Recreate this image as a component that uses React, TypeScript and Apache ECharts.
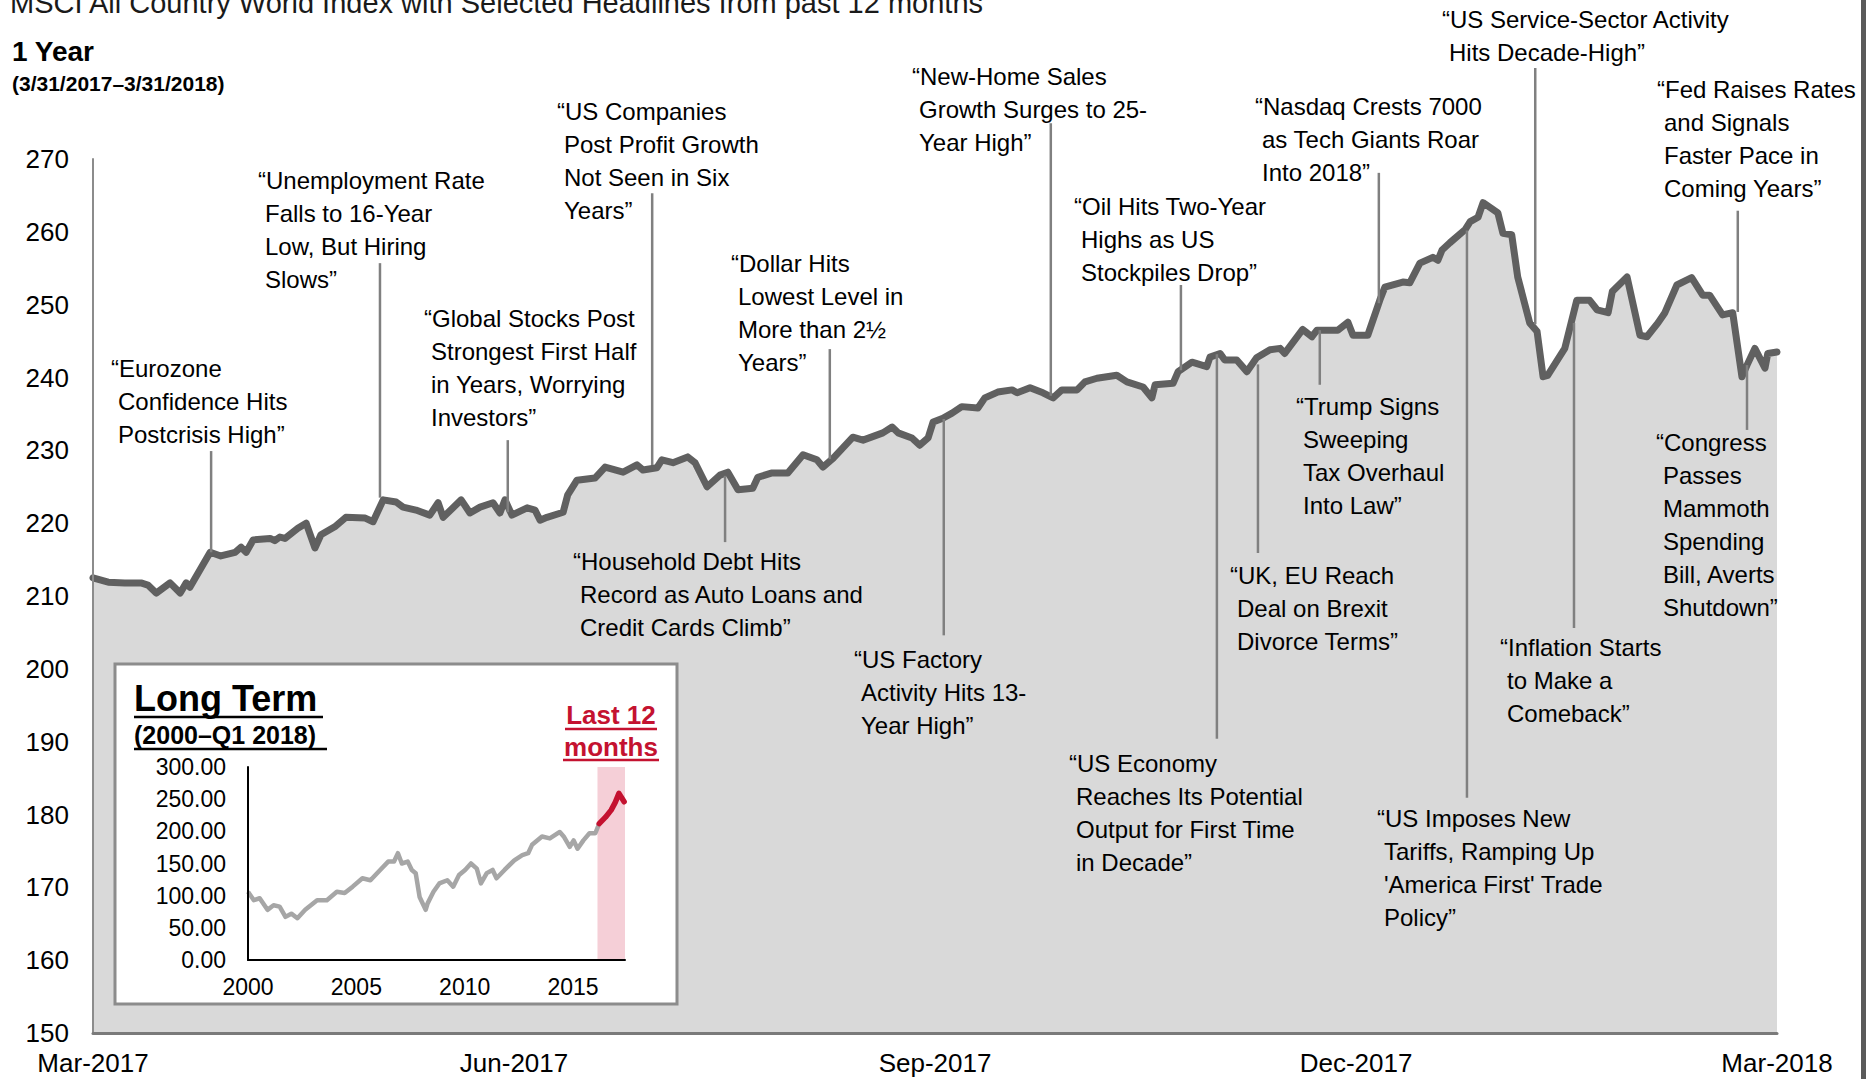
import React, { useEffect, useRef } from "react";
import * as echarts from "echarts";

// ---------- text ----------
const chartTitle = "MSCI All Country World Index with Selected Headlines from past 12 months";
const periodTitle = "1 Year";
const periodRange = "(3/31/2017–3/31/2018)";
const xTickLabels = ["Mar-2017", "Jun-2017", "Sep-2017", "Dec-2017", "Mar-2018"];

// ---------- 1-year series (days since 3/31/2017) ----------
const dayOffsets = [
  0, 3.3, 6.9, 10.4, 11.9, 13.7, 16.7, 18.9, 20.2, 21.0,
  25.4, 27.7, 30.8, 32.1, 33.2, 34.7, 38.4, 39.4, 40.5, 41.6,
  44.4, 46.2, 48.1, 49.4, 52.4, 54.8, 59.0, 60.7, 62.9, 65.7,
  67.2, 70.0, 73.0, 74.8, 75.9, 79.8, 81.7, 83.9, 86.7, 88.2,
  89.3, 90.8, 94.1, 95.8, 96.9, 98.4, 101.9, 102.9, 104.9, 108.8,
  111.0, 114.9, 117.9, 119.2, 122.2, 123.3, 125.7, 128.9, 130.5, 133.1,
  135.9, 137.6, 139.8, 143.0, 144.1, 147.2, 150.6, 153.9, 156.9, 158.2,
  160.4, 164.7, 166.9, 171.2, 173.2, 174.5, 177.5, 179.2, 181.0, 182.1,
  184.2, 186.2, 188.3, 191.8, 193.3, 196.1, 199.2, 200.3, 203.1, 205.9,
  208.1, 210.0, 213.3, 215.0, 217.6, 221.9, 224.1, 227.6, 229.5, 230.2,
  234.1, 235.2, 238.2, 241.4, 242.1, 244.3, 245.3, 247.9, 250.1, 252.2,
  255.1, 257.3, 258.3, 262.2, 264.2, 265.3, 269.8, 272.0, 273.1, 276.3,
  278.9, 280.0, 283.9, 285.4, 287.6, 290.4, 291.5, 292.4, 294.1, 297.4,
  298.5, 300.2, 301.3, 304.5, 305.6, 307.5, 308.8, 311.4, 313.0, 314.3,
  315.3, 319.0, 321.6, 324.4, 326.0, 328.4, 329.3, 332.5, 335.3, 336.8,
  339.2, 340.7, 343.3, 346.5, 348.9, 350.4, 353.2, 355.4, 357.4, 358.5,
  360.2, 362.4, 363.0, 365
];
const indexValues = [
  212.5, 211.9, 211.8, 211.8, 211.5, 210.4, 211.8, 210.4, 211.8, 211.2,
  216.0, 215.5, 216.0, 216.7, 216.0, 217.7, 217.9, 217.6, 218.1, 217.9,
  219.3, 220.0, 216.6, 218.4, 219.5, 220.8, 220.7, 220.2, 223.2, 222.9,
  222.2, 221.8, 221.1, 222.8, 220.8, 223.2, 221.4, 222.2, 222.8, 221.4,
  223.2, 221.1, 222.1, 221.8, 220.4, 220.8, 221.5, 223.9, 225.9, 226.2,
  227.7, 227.0, 228.0, 227.3, 227.6, 228.7, 228.3, 229.1, 228.3, 225.0,
  226.6, 227.0, 224.6, 224.8, 226.3, 226.9, 226.9, 229.4, 228.7, 227.7,
  228.9, 231.8, 231.4, 232.4, 233.2, 232.4, 231.7, 230.7, 231.7, 233.9,
  234.4, 235.1, 236.0, 235.8, 237.2, 238.0, 238.3, 237.9, 238.6, 237.9,
  237.2, 238.3, 238.3, 239.4, 239.9, 240.3, 239.4, 238.7, 237.2, 239.0,
  239.2, 240.8, 242.1, 241.5, 242.8, 243.3, 242.4, 242.4, 240.8, 242.7,
  243.8, 244.0, 243.3, 246.6, 245.6, 246.5, 246.5, 247.6, 245.8, 245.8,
  250.6, 252.4, 253.1, 253.0, 255.7, 256.5, 256.1, 257.5, 258.5, 260.3,
  261.4, 262.0, 264.0, 262.6, 259.8, 259.6, 253.8, 247.5, 246.3, 240.1,
  240.3, 244.0, 250.6, 250.6, 249.3, 248.9, 251.8, 253.8, 245.8, 245.6,
  247.5, 248.9, 252.7, 253.7, 251.3, 251.3, 248.6, 248.9, 240.1, 241.7,
  244.0, 241.3, 243.3, 243.5
];

// ---------- headlines ----------
const headlineLines = [
  ["“Eurozone", "Confidence Hits", "Postcrisis High”"],
  ["“Unemployment Rate", "Falls to 16-Year", "Low, But Hiring", "Slows”"],
  ["“Global Stocks Post", "Strongest First Half", "in Years, Worrying", "Investors”"],
  ["“US Companies", "Post Profit Growth", "Not Seen in Six", "Years”"],
  ["“Household Debt Hits", "Record as Auto Loans and", "Credit Cards Climb”"],
  ["“Dollar Hits", "Lowest Level in", "More than 2½", "Years”"],
  ["“US Factory", "Activity Hits 13-", "Year High”"],
  ["“New-Home Sales", "Growth Surges to 25-", "Year High”"],
  ["“Oil Hits Two-Year", "Highs as US", "Stockpiles Drop”"],
  ["“UK, EU Reach", "Deal on Brexit", "Divorce Terms”"],
  ["“US Economy", "Reaches Its Potential", "Output for First Time", "in Decade”"],
  ["“Trump Signs", "Sweeping", "Tax Overhaul", "Into Law”"],
  ["“Nasdaq Crests 7000", "as Tech Giants Roar", "Into 2018”"],
  ["“US Service-Sector Activity", "Hits Decade-High”"],
  ["“US Imposes New", "Tariffs, Ramping Up", "'America First' Trade", "Policy”"],
  ["“Inflation Starts", "to Make a", "Comeback”"],
  ["“Fed Raises Rates", "and Signals", "Faster Pace in", "Coming Years”"],
  ["“Congress", "Passes", "Mammoth", "Spending", "Bill, Averts", "Shutdown”"]
];
// leader lines in data units: day, value at text end, value at series end
const headlineDays = [25.6, 62.2, 89.9, 121.2, 137.0, 159.7, 184.4, 207.6, 235.8, 252.5, 243.6, 265.9, 278.7, 312.6, 297.8, 321.0, 356.5, 358.5];
const leaderTextValues = [229.9, 255.7, 231.4, 265.3, 217.4, 243.9, 204.6, 274.9, 252.7, 215.9, 190.4, 239.0, 268.1, 282.5, 182.3, 205.6, 262.9, 232.8];
const leaderSeriesValues = [216.0, 223.5, 221.5, 228.0, 226.5, 228.8, 234.3, 237.5, 241.0, 241.8, 243.2, 246.5, 250.2, 247.3, 260.2, 247.5, 249.0, 241.7];

// ---------- inset ----------
const insetTitle = "Long Term";
const insetSubtitle = "(2000–Q1 2018)";
const insetHighlightLines = ["Last 12", "months"];
const longTermYears = [
  2000.0, 2000.27, 2000.54, 2000.9, 2001.18, 2001.46, 2001.73, 2002.0, 2002.28, 2002.64,
  2003.19, 2003.64, 2004.1, 2004.46, 2004.83, 2005.28, 2005.65, 2006.1, 2006.47, 2006.74,
  2006.92, 2007.1, 2007.37, 2007.56, 2007.74, 2007.92, 2008.2, 2008.29, 2008.56, 2008.83,
  2009.2, 2009.47, 2009.74, 2010.02, 2010.29, 2010.56, 2010.75, 2011.02, 2011.29, 2011.47,
  2011.84, 2012.29, 2012.66, 2012.93, 2013.11, 2013.57, 2013.93, 2014.39, 2014.57, 2014.85,
  2015.03, 2015.21, 2015.48, 2015.76, 2016.03, 2016.21
];
const longTermValues = [
  106, 93, 96, 78, 85, 83, 67, 72, 65, 78,
  93, 93, 106, 104, 114, 127, 124, 140, 153, 153,
  166, 150, 153, 140, 135, 98, 78, 88, 106, 119,
  124, 114, 132, 140, 150, 142, 119, 135, 140, 127,
  140, 155, 163, 166, 179, 192, 189, 199, 192, 176,
  186, 173, 186, 197, 197, 212
];
const recentYears = [2016.21, 2016.5, 2016.76, 2016.95, 2017.12, 2017.36];
const recentValues = [212, 222, 233, 245, 259, 246];
const highlightRange = [2016.13, 2017.4];

// ---------- layout (pixels) ----------
const FONT = "'Liberation Sans', Arial, Helvetica, sans-serif";
const headlineTextPos = [
  [111, 368], [258, 180], [424, 318], [557, 111], [573, 561], [731, 263],
  [854, 659], [912, 76], [1074, 206], [1230, 575], [1069, 763], [1296, 406],
  [1255, 106], [1442, 19], [1377, 818], [1500, 647], [1657, 89], [1656, 442]
];
const LINE_H = 33;
const INDENT = 7;

function buildOption() {
  return {
    animation: false,
    backgroundColor: "#ffffff",
    grid: [
      { left: 93, right: 96, top: 159, bottom: 46, containLabel: false, outerBoundsMode: "none" },
      { left: 248, right: 1248, top: 767, bottom: 119, containLabel: false, outerBoundsMode: "none" }
    ],
    xAxis: [
      {
        type: "value", gridIndex: 0, min: 0, max: 365, interval: 91.25, z: 3,
        axisLine: { show: true, onZero: false, lineStyle: { color: "#7a7a7a", width: 3 } },
        axisTick: { show: false }, splitLine: { show: false },
        axisLabel: {
          color: "#000", fontSize: 26, fontFamily: FONT, margin: 17,
          showMinLabel: true, showMaxLabel: true,
          formatter: (v: number) => xTickLabels[Math.round(v / 91.25)] ?? ""
        }
      },
      {
        type: "value", gridIndex: 1, min: 2000, max: 2017.4, interval: 5, z: 11,
        axisLine: { show: true, onZero: false, lineStyle: { color: "#000", width: 2 } },
        axisTick: { show: false }, splitLine: { show: false },
        axisLabel: {
          color: "#000", fontSize: 23, fontFamily: FONT, margin: 15,
          formatter: (v: number) => (Math.abs(v % 5) < 1e-6 ? String(v) : "")
        }
      }
    ],
    yAxis: [
      {
        type: "value", gridIndex: 0, min: 150, max: 270, interval: 10, z: 3,
        axisLine: { show: true, lineStyle: { color: "#8c8c8c", width: 2 } },
        axisTick: { show: false }, splitLine: { show: false },
        axisLabel: { color: "#000", fontSize: 26, fontFamily: FONT, margin: 24 }
      },
      {
        type: "value", gridIndex: 1, min: 0, max: 300, interval: 50, z: 11,
        axisLine: { show: true, lineStyle: { color: "#000", width: 2 } },
        axisTick: { show: false }, splitLine: { show: false },
        axisLabel: {
          color: "#000", fontSize: 23, fontFamily: FONT, margin: 22,
          formatter: (v: number) => v.toFixed(2)
        }
      }
    ],
    series: [
      {
        type: "line", xAxisIndex: 0, yAxisIndex: 0, z: 2,
        data: dayOffsets.map((d, i) => [d, indexValues[i]]),
        symbol: "none", smooth: false,
        lineStyle: { color: "#606060", width: 7, join: "round", cap: "round" },
        areaStyle: { color: "#d9d9d9", opacity: 1, origin: "start" }
      },
      {
        type: "line", xAxisIndex: 1, yAxisIndex: 1, z: 10,
        data: longTermYears.map((y, i) => [y, longTermValues[i]]),
        symbol: "none",
        lineStyle: { color: "#a6a6a6", width: 4.5, join: "round" },
        markArea: {
          silent: true,
          z: 9,
          itemStyle: { color: "#f5cfd7", opacity: 1 },
          data: [[{ coord: [highlightRange[0], 0] }, { coord: [highlightRange[1], 300] }]]
        }
      },
      {
        type: "line", xAxisIndex: 1, yAxisIndex: 1, z: 12,
        data: recentYears.map((y, i) => [y, recentValues[i]]),
        symbol: "none",
        lineStyle: { color: "#c41230", width: 5.5, join: "round", cap: "round" }
      }
    ]
  };
}

function txt(text: string, x: number, y: number, size: number, opts: any = {}) {
  return {
    type: "text", z: 20, silent: true,
    style: {
      text, x, y,
      fontSize: size, fontFamily: FONT, fontWeight: opts.bold ? "bold" : "normal",
      fill: opts.color || "#000",
      align: opts.align || "left", verticalAlign: "middle"
    }
  };
}

function uline(x1: number, x2: number, y: number, color: string, w: number) {
  return { type: "line", z: 20, silent: true, shape: { x1, y1: y, x2, y2: y }, style: { stroke: color, lineWidth: w } };
}

export default function App() {
  const ref = useRef<HTMLDivElement>(null);
  useEffect(() => {
    if (!ref.current) return;
    const chart = echarts.init(ref.current, null, { renderer: "svg" });
    chart.setOption(buildOption() as any);

    const els: any[] = [];
    // titles
    els.push(txt(chartTitle, 10, 3, 29, { color: "#1a1a1a" }));
    els.push(txt(periodTitle, 12, 51, 28, { bold: true }));
    els.push(txt(periodRange, 12, 83, 21, { bold: true }));
    // right frame bar
    els.push({ type: "rect", z: 20, silent: true, shape: { x: 1861, y: 0, width: 5, height: 1079 }, style: { fill: "#5a5a5a" } });

    // headline texts
    headlineLines.forEach((lines, i) => {
      const [x0, y0] = headlineTextPos[i];
      lines.forEach((ln, j) => {
        els.push(txt(ln, j === 0 ? x0 : x0 + INDENT, y0 + j * LINE_H, 24));
      });
    });
    // leader lines via the chart's own scales
    headlineDays.forEach((d, i) => {
      const p1 = chart.convertToPixel({ gridIndex: 0 } as any, [d, leaderTextValues[i]]) as number[];
      const p2 = chart.convertToPixel({ gridIndex: 0 } as any, [d, leaderSeriesValues[i]]) as number[];
      els.push({
        type: "line", z: 3, silent: true,
        shape: { x1: p1[0], y1: p1[1], x2: p2[0], y2: p2[1] },
        style: { stroke: "#808080", lineWidth: 2.5 }
      });
    });

    // inset box
    els.push({
      type: "rect", z: 5, silent: true,
      shape: { x: 115, y: 664, width: 562, height: 340 },
      style: { fill: "#ffffff", stroke: "#8c8c8c", lineWidth: 3 }
    });
    els.push(txt(insetTitle, 134, 698, 36, { bold: true }));
    els.push(uline(134, 323, 717, "#000", 2.5));
    els.push(txt(insetSubtitle, 134, 735, 25, { bold: true }));
    els.push(uline(134, 327, 749, "#000", 2.5));
    els.push(txt(insetHighlightLines[0], 611, 715, 26, { bold: true, color: "#c41230", align: "center" }));
    els.push(uline(565, 657, 729, "#c41230", 2.5));
    els.push(txt(insetHighlightLines[1], 611, 747, 26, { bold: true, color: "#c41230", align: "center" }));
    els.push(uline(563, 659, 760, "#c41230", 2.5));

    chart.setOption({ graphic: { elements: els } } as any);
    return () => chart.dispose();
  }, []);
  return (
    <div
      ref={ref}
      style={{ position: "fixed", left: 0, top: 0, width: 1873, height: 1079, background: "#fff" }}
    />
  );
}
